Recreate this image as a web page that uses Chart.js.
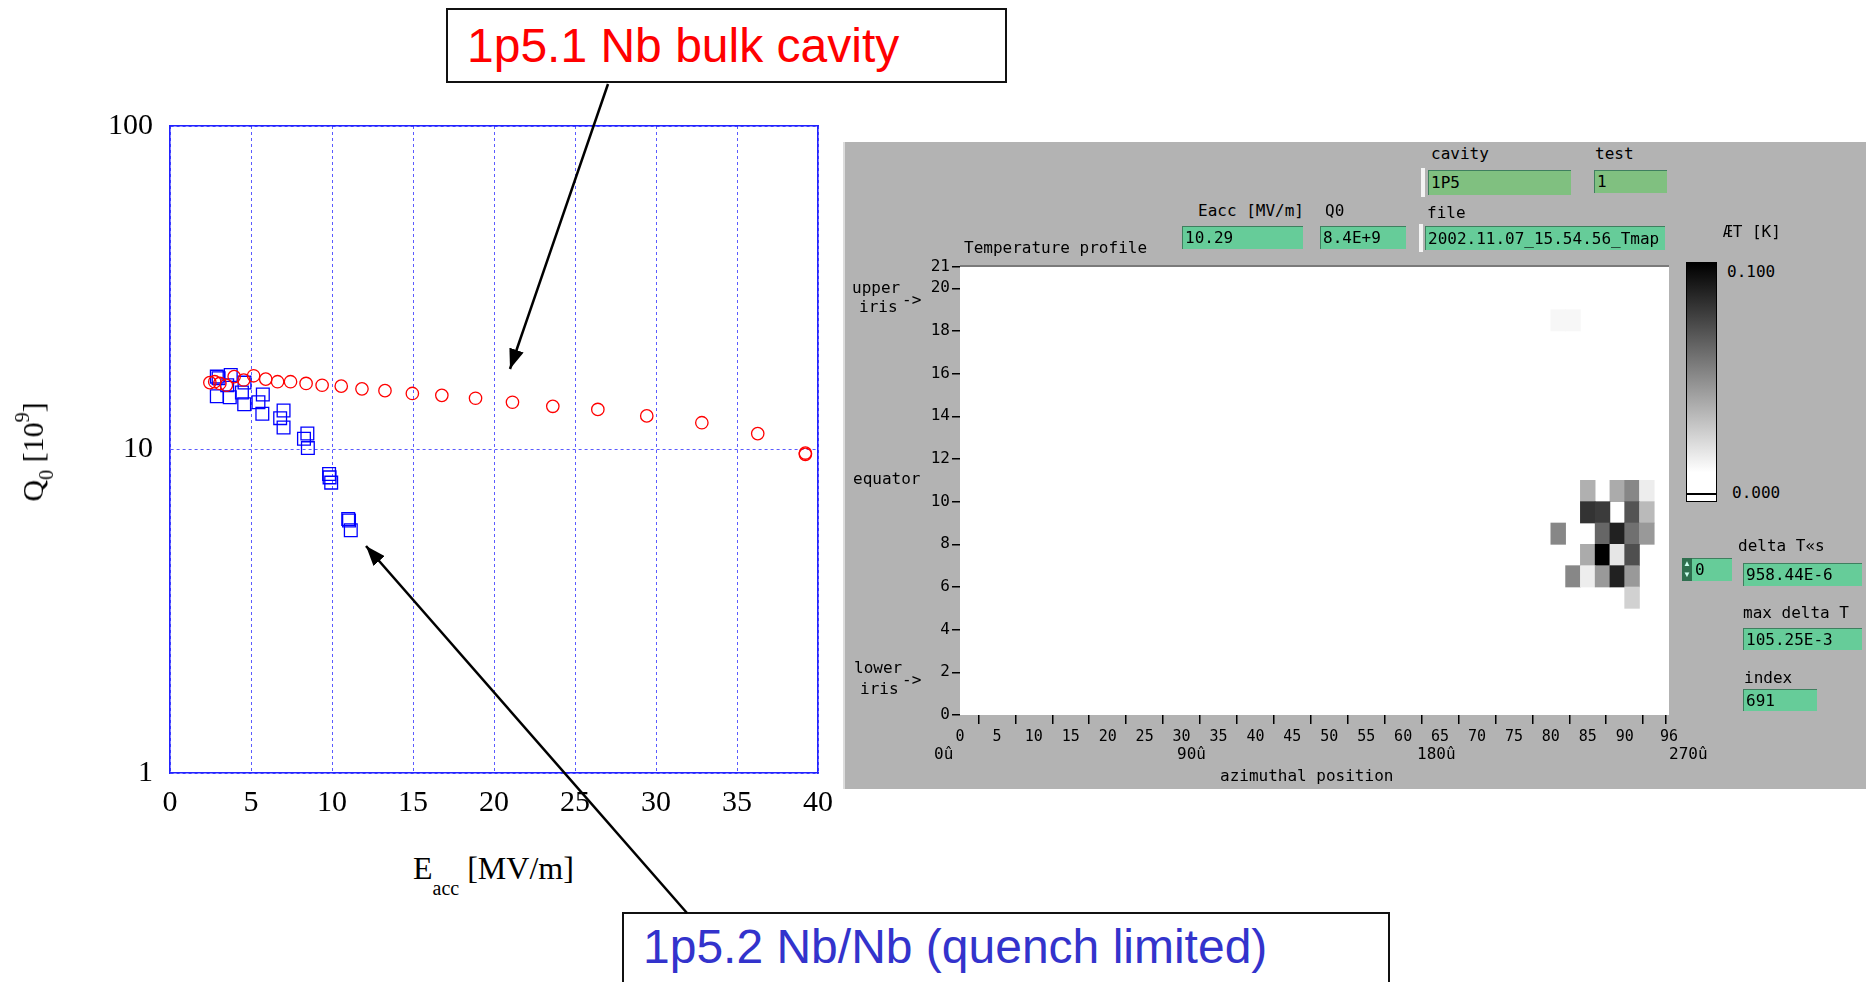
<!DOCTYPE html>
<html>
<head>
<meta charset="utf-8">
<script src="https://cdn.jsdelivr.net/npm/chart.js@4.4.1/dist/chart.umd.min.js"></script>
<style>
    body { margin: 0; background: #fff; }
    #page { position: relative; width: 1868px; height: 982px; overflow: hidden; background: #fff; }
    .abs { position: absolute; }
    .note { position: absolute; font: 48px "Liberation Sans", Arial, sans-serif; line-height: 48px; white-space: nowrap; }
    .box { position: absolute; border: 2px solid #111; background: #fff; box-sizing: border-box; }
    .serif { position: absolute; font: 32px "Liberation Serif", "Times New Roman", serif; line-height: 32px; white-space: nowrap; color: #000; }
    .serif sub, .serif sup { font-size: 20px; line-height: 0; }
    #panel { position: absolute; left: 843px; top: 142px; width: 1023px; height: 647px; background: #b3b3b3; border-left: 2px solid #dcdcdc; box-sizing: border-box; }
    .t { position: absolute; font: 16px "DejaVu Sans Mono", monospace; line-height: 16px; color: #000; white-space: pre; }
    .fld { position: absolute; font: 16px "DejaVu Sans Mono", monospace; color: #000; padding-left: 2px; box-sizing: border-box;
           background: #66cc99; border-top: 1px solid #3f7f5f; border-left: 1px solid #3f7f5f; white-space: pre; }
    .fld.dark { background: #80c080; }
    .bar { position: absolute; background: #f4f4f4; }
</style>
</head>
<body>
<div id="page">

    <!-- Q0 vs Eacc -->
    <canvas id="cQ" class="abs" style="left:0;top:0"></canvas>

    <div class="serif" style="left:413px;top:852px">E<sub style="vertical-align:-16px">acc</sub> [MV/m]</div>
    <div class="serif" style="left:33px;top:452px;font-size:30px;transform:translate(-50%,-50%) rotate(-90deg)">Q<sub style="vertical-align:-10px">0</sub> [10<sup style="vertical-align:14px">9</sup>]</div>

    <!-- temperature map panel -->
    <div id="panel"></div>
    <canvas id="cMap" class="abs" style="left:880px;top:250px"></canvas>

    <div class="t" style="left:1431px;top:146px">cavity</div>
    <div class="bar" style="left:1421px;top:168px;width:4px;height:29px"></div>
    <div class="fld dark" style="left:1428px;top:170px;width:143px;height:25px;line-height:24px">1P5</div>
    <div class="t" style="left:1595px;top:146px">test</div>
    <div class="fld dark" style="left:1594px;top:170px;width:73px;height:23px;line-height:22px">1</div>

    <div class="t" style="left:1198px;top:203px">Eacc [MV/m]</div>
    <div class="fld" style="left:1182px;top:226px;width:121px;height:23px;line-height:22px">10.29</div>
    <div class="t" style="left:1325px;top:203px">Q0</div>
    <div class="fld" style="left:1320px;top:226px;width:86px;height:23px;line-height:22px">8.4E+9</div>
    <div class="t" style="left:1427px;top:205px">file</div>
    <div class="bar" style="left:1419px;top:224px;width:4px;height:28px"></div>
    <div class="fld" style="left:1425px;top:226px;width:240px;height:24px;line-height:23px">2002.11.07_15.54.56_Tmap</div>

    <div class="t" style="left:964px;top:240px">Temperature profile</div>
    <div class="t" style="left:1723px;top:224px">ÆT [K]</div>

    <div class="abs" style="left:1686px;top:262px;width:31px;height:240px;border:1px solid #000;box-sizing:border-box;
         background:linear-gradient(to bottom,#000 0%,#111 6%,#fff 88%,#fff 100%)"></div>
    <div class="abs" style="left:1687px;top:493px;width:29px;height:2px;background:#000"></div>
    <div class="t" style="left:1727px;top:264px">0.100</div>
    <div class="t" style="left:1732px;top:485px">0.000</div>

    <div class="fld" style="left:1682px;top:558px;width:50px;height:23px;line-height:22px;padding-left:12px">0</div>
    <div class="abs" style="left:1682px;top:558px;width:10px;height:23px;background:#2f6f4f;color:#cfe;font:8px sans-serif;line-height:11px;text-align:center">▲<br>▼</div>
    <div class="t" style="left:1738px;top:538px">delta T«s</div>
    <div class="fld" style="left:1743px;top:563px;width:119px;height:23px;line-height:22px">958.44E-6</div>
    <div class="t" style="left:1743px;top:605px">max delta T</div>
    <div class="fld" style="left:1743px;top:628px;width:119px;height:22px;line-height:21px">105.25E-3</div>
    <div class="t" style="left:1744px;top:670px">index</div>
    <div class="fld" style="left:1743px;top:689px;width:74px;height:22px;line-height:21px">691</div>

    <div class="t" style="left:852px;top:280px">upper</div>
    <div class="t" style="left:859px;top:299px">iris</div>
    <div class="t" style="left:902px;top:292px">-&gt;</div>
    <div class="t" style="left:853px;top:471px">equator</div>
    <div class="t" style="left:854px;top:660px">lower</div>
    <div class="t" style="left:860px;top:681px">iris</div>
    <div class="t" style="left:902px;top:672px">-&gt;</div>

    <div class="t" style="left:934px;top:746px">0û</div>
    <div class="t" style="left:1177px;top:746px">90û</div>
    <div class="t" style="left:1417px;top:746px">180û</div>
    <div class="t" style="left:1669px;top:746px">270û</div>
    <div class="t" style="left:1220px;top:768px">azimuthal position</div>

    <!-- call-outs -->
    <div class="box" style="left:446px;top:8px;width:561px;height:75px"></div>
    <div class="note" style="left:467px;top:22px;color:#ff0000">1p5.1 Nb bulk cavity</div>
    <div class="box" style="left:622px;top:912px;width:768px;height:100px"></div>
    <div class="note" style="left:643px;top:923px;color:#3333cc">1p5.2 Nb/Nb (quench limited)</div>

    <svg class="abs" style="left:0;top:0" width="1868" height="982">
        <defs>
            <marker id="head" markerWidth="8" markerHeight="6" refX="8" refY="3" orient="auto" markerUnits="strokeWidth">
                <path d="M0,0 L8,3 L0,6 z" fill="#000"/>
            </marker>
        </defs>
        <line x1="608" y1="84" x2="510" y2="369" stroke="#000" stroke-width="2.5" marker-end="url(#head)"/>
        <line x1="687" y1="913" x2="366" y2="546" stroke="#000" stroke-width="2.5" marker-end="url(#head)"/>
    </svg>
</div>

<script>
// Q0 (10^9) vs Eacc (MV/m)
const eaccBulk = [2.46, 2.76, 3.08, 3.48, 3.96, 4.55, 5.16, 5.91, 6.64, 7.44, 8.40, 9.39, 10.57,
    11.85, 13.27, 14.96, 16.78, 18.86, 21.14, 23.63, 26.41, 29.43, 32.83, 36.28, 39.22, 39.22];
const q0Bulk = [16.1, 16.2, 16.0, 15.8, 16.8, 16.4, 16.9, 16.5, 16.2, 16.2, 16.0, 15.8, 15.7,
    15.4, 15.2, 14.9, 14.7, 14.4, 14.0, 13.6, 13.3, 12.7, 12.1, 11.2, 9.66, 9.75];

const eaccQuench = [2.89, 3.00, 3.75, 3.53, 2.89, 3.69, 4.60, 4.44, 4.58, 5.73, 5.46, 5.70,
    7.01, 6.80, 7.01, 8.48, 8.27, 8.51, 9.82, 9.95, 9.85, 11.05, 11.16, 11.00];
const q0Quench = [16.8, 16.6, 17.0, 15.8, 14.6, 14.5, 16.1, 15.0, 13.8, 14.8, 14.0, 12.9,
    13.2, 12.5, 11.7, 11.2, 10.8, 10.1, 8.4, 7.9, 8.2, 6.03, 5.63, 6.1];

const q0Ticks = [1, 10, 100];

// temperature map: cell = 2 sensor columns x 1 row, dT in K
const cellCol = [80, 82, 84, 88, 90, 92, 84, 86, 90, 92, 80, 86, 88, 90, 92, 84, 86, 88, 90, 82, 84, 86, 88, 90, 90];
const cellRow = [18, 18, 10, 10, 10, 10, 9, 9, 9, 9, 8, 8, 8, 8, 8, 7, 7, 7, 7, 6, 6, 6, 6, 6, 5];
const cellDT = [0.003, 0.003, 0.031, 0.033, 0.047, 0.007, 0.080, 0.077, 0.067, 0.027,
    0.047, 0.060, 0.087, 0.056, 0.040, 0.033, 0.105, 0.010, 0.069,
    0.047, 0.007, 0.040, 0.087, 0.040, 0.018];

const mapXTicks = [0, 5, 10, 15, 20, 25, 30, 35, 40, 45, 50, 55, 60, 65, 70, 75, 80, 85, 90, 95, 96];
const mapYTicks = [0, 2, 4, 6, 8, 10, 12, 14, 16, 18, 20, 21];
const dTMax = 0.1;


/* helpers */

const gridBlue = "rgba(50,50,255,0.8)";

function grayFor(v) {
    const g = Math.round(255 * (1 - Math.min(v, dTMax) / dTMax));
    return `rgb(${g},${g},${g})`;
}

function sizeCanvas(id, w, h) {
    const c = document.getElementById(id);
    c.style.width = w + "px";
    c.style.height = h + "px";
    c.width = w;
    c.height = h;
    return c;
}

const whiteArea = {
    id: "whiteArea",
    beforeDatasetsDraw(chart) {
        const { ctx, chartArea: a } = chart;
        ctx.save();
        ctx.fillStyle = "#fff";
        ctx.fillRect(a.left, a.top, a.right - a.left, a.bottom - a.top);
        ctx.strokeStyle = "#7a7a7a";
        ctx.lineWidth = 2;
        ctx.beginPath();
        ctx.moveTo(a.left, a.top - 1);
        ctx.lineTo(a.right, a.top - 1);
        ctx.stroke();
        ctx.restore();
    }
};


/* chart Q0 */

function renderQ() {

    const serifTicks = { family: "Liberation Serif", size: 30 };

    new Chart(sizeCanvas("cQ", 860, 845), {
        type: "scatter",
        data: {
            datasets: [
                {
                    label: "1p5.1",
                    data: eaccBulk.map((x, i) => ({ x, y: q0Bulk[i] })),
                    pointStyle: "circle",
                    pointRadius: 6.2,
                    borderColor: "#ff0000",
                    backgroundColor: "rgba(0,0,0,0)",
                    borderWidth: 1.3
                },
                {
                    label: "1p5.2",
                    data: eaccQuench.map((x, i) => ({ x, y: q0Quench[i] })),
                    pointStyle: "rect",
                    pointRadius: 9,
                    borderColor: "#0000ff",
                    backgroundColor: "rgba(0,0,0,0)",
                    borderWidth: 1.3
                }
            ]
        },
        options: {
            responsive: false,
            animation: false,
            events: [],
            layout: { padding: { top: 126, right: 42, left: 0, bottom: 0 } },
            plugins: { legend: { display: false }, tooltip: { enabled: false } },
            scales: {
                x: {
                    type: "linear", min: 0, max: 40,
                    ticks: { stepSize: 5, padding: 12, color: "#000", font: serifTicks, maxRotation: 0 },
                    grid: { color: gridBlue, lineWidth: 1, drawTicks: false },
                    border: { color: "#2222ff", width: 1.6, dash: [3, 3] },
                    afterFit: a => { a.height = 72; }
                },
                y: {
                    type: "logarithmic", min: 1, max: 100,
                    afterBuildTicks: a => { a.ticks = q0Ticks.map(v => ({ value: v })); },
                    ticks: { padding: 17, color: "#000", font: serifTicks, callback: v => String(v) },
                    grid: { color: gridBlue, lineWidth: 1, drawTicks: false },
                    border: { color: "#2222ff", width: 1.6, dash: [3, 3] },
                    afterFit: a => { a.width = 170; }
                },
                x2: {
                    type: "linear", position: "top", min: 0, max: 40,
                    ticks: { display: false },
                    grid: { drawOnChartArea: false, drawTicks: false },
                    border: { color: "#2222ff", width: 1.6 },
                    afterFit: a => { a.height = 0; }
                },
                y2: {
                    type: "linear", position: "right", min: 0, max: 1,
                    ticks: { display: false },
                    grid: { drawOnChartArea: false, drawTicks: false },
                    border: { color: "#2222ff", width: 1.6 },
                    afterFit: a => { a.width = 0; }
                }
            }
        }
    });
}


/* chart temperature map */

function renderMap() {

    const mono = { family: "DejaVu Sans Mono", size: 15 };

    new Chart(sizeCanvas("cMap", 809, 510), {
        type: "bar",
        data: {
            datasets: [{
                label: "dT",
                xAxisID: "xb",
                data: cellCol.map((c, i) => ({ x: c + 1, y: [cellRow[i], cellRow[i] + 1] })),
                backgroundColor: ctx => grayFor(cellDT[ctx.dataIndex]),
                borderWidth: 0,
                categoryPercentage: 1,
                barPercentage: 1
            }]
        },
        options: {
            responsive: false,
            animation: false,
            events: [],
            layout: { padding: { top: 17, right: 20, left: 0, bottom: 0 } },
            plugins: { legend: { display: false }, tooltip: { enabled: false } },
            scales: {
                x: {
                    type: "linear", min: 0, max: 96, offset: false,
                    afterBuildTicks: a => { a.ticks = mapXTicks.map(v => ({ value: v })); },
                    ticks: {
                        autoSkip: false, maxRotation: 0, padding: 4, color: "#000", font: mono,
                        callback: v => (v === 95 ? "" : String(v))
                    },
                    grid: { drawOnChartArea: false, drawTicks: true, tickLength: 9, color: "#000", lineWidth: 1.5 },
                    border: { display: false },
                    afterFit: a => { a.height = 45; }
                },
                xb: {
                    type: "linear", min: 0, max: 96, offset: false, display: false,
                    ticks: { stepSize: 2, maxTicksLimit: 60 }
                },
                y: {
                    type: "linear", min: 0, max: 21,
                    afterBuildTicks: a => { a.ticks = mapYTicks.map(v => ({ value: v })); },
                    ticks: { autoSkip: false, padding: 2, color: "#000", font: { family: "DejaVu Sans Mono", size: 16 } },
                    grid: { drawOnChartArea: false, drawTicks: true, tickLength: 8, color: "#000", lineWidth: 1.5 },
                    border: { display: false },
                    afterFit: a => { a.width = 80; }
                }
            }
        },
        plugins: [whiteArea]
    });
}

document.addEventListener("DOMContentLoaded", () => {
    renderQ();
    renderMap();
});
</script>
</body>
</html>
